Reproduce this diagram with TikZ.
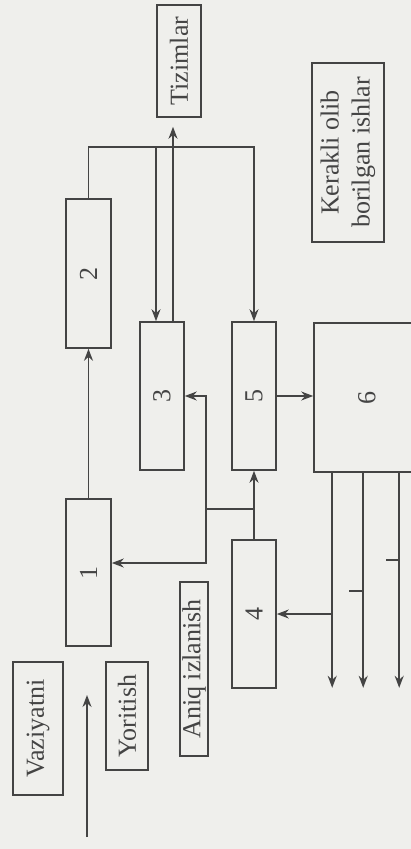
\documentclass[tikz,border=0pt]{standalone}
\usepackage{fontspec}
\setmainfont{Liberation Serif}
\usepackage{graphicx}
\usetikzlibrary{arrows.meta}
\definecolor{ink}{HTML}{444444}
\definecolor{paper}{HTML}{EFEFEC}
\newcommand{\vtext}[1]{\rotatebox{90}{#1}}
\tikzset{
  blk/.style={draw=ink,line width=1.6pt,inner sep=0pt,font=\fontsize{26}{31}\selectfont,text=ink},
  flow/.style={-{Stealth[length=12pt,width=9pt]},line width=1.6pt,draw=ink},
  link/.style={line width=1.6pt,draw=ink}
}

\begin{document}
\begin{tikzpicture}[x=1pt,y=-1pt]
  \clip (0,0) rectangle (411,849);
  \fill[paper] (0,0) rectangle (411,849);

  \node[blk,minimum width=44pt,minimum height=112pt] (tiz) at (179,61) {\vtext{Tizimlar}};
  \node[blk,minimum width=72pt,minimum height=179pt] (ker) at (348,152.5)
    {\vtext{\begin{tabular}{@{}c@{}}Kerakli olib\\borilgan ishlar\end{tabular}}};
  \node[blk,minimum width=45pt,minimum height=149pt] (b2) at (88.5,273.5) {\vtext{2}};
  \node[blk,minimum width=44pt,minimum height=148pt] (b3) at (162,396) {\vtext{3}};
  \node[blk,minimum width=44pt,minimum height=148pt] (b5) at (254,396) {\vtext{5}};
  \node[blk,minimum width=106pt,minimum height=149pt] (b6) at (367,397.5) {\vtext{6}};
  \node[blk,minimum width=45pt,minimum height=147pt] (b1) at (88.5,572.5) {\vtext{1}};
  \node[blk,minimum width=44pt,minimum height=148pt] (b4) at (254,614) {\vtext{4}};
  \node[blk,minimum width=50pt,minimum height=133pt] (vaz) at (38,728.5) {\vtext{Vaziyatni}};
  \node[blk,minimum width=42pt,minimum height=108pt] (yor) at (127,716) {\vtext{Yoritish}};
  \node[blk,minimum width=28pt,minimum height=174pt] (aniq) at (194,669) {\vtext{Aniq izlanish}};

  % top distribution
  \draw[flow] (b1.north) -- (b2.south);
  \draw[flow] (b2.north) -- ++(0,-51) -| (b5.north);
  \coordinate (j1) at (156,148);
  \draw[flow] (j1) -- (j1 |- b3.north);
  \coordinate (t3) at ([xshift=11pt]b3.north);
  \draw[flow,shorten >=9pt] (t3) -- (t3 |- tiz.south);

  % middle feedback
  \draw[flow] (b5.east) -- (b5.east -| b6.west);
  \draw[flow] (b4.north) -- (b5.south);
  \coordinate (j2) at (206,509);
  \draw[link] (j2) -- (j2 -| b4.north);
  \draw[flow] (j2) |- (b3.east);
  \draw[flow] (j2) |- ([yshift=9.5pt]b1.east);

  % outputs of 6
  \foreach \dx/\nm in {19/o1,50/o2,86/o3} {
    \coordinate (\nm) at ([xshift=\dx pt]b6.south west);
    \draw[flow] (\nm) -- ++(0,215);
  }
  \draw[flow] (o1 |- b4.east) -- (b4.east);
  \draw[link] (o2) ++(0,118) -- ++(-14,0);
  \draw[link] (o3) ++(0,87) -- ++(-13,0);

  % input
  \coordinate (src) at (87,837);
  \draw[flow] (src) -- ++(0,-142);
\end{tikzpicture}
\end{document}
